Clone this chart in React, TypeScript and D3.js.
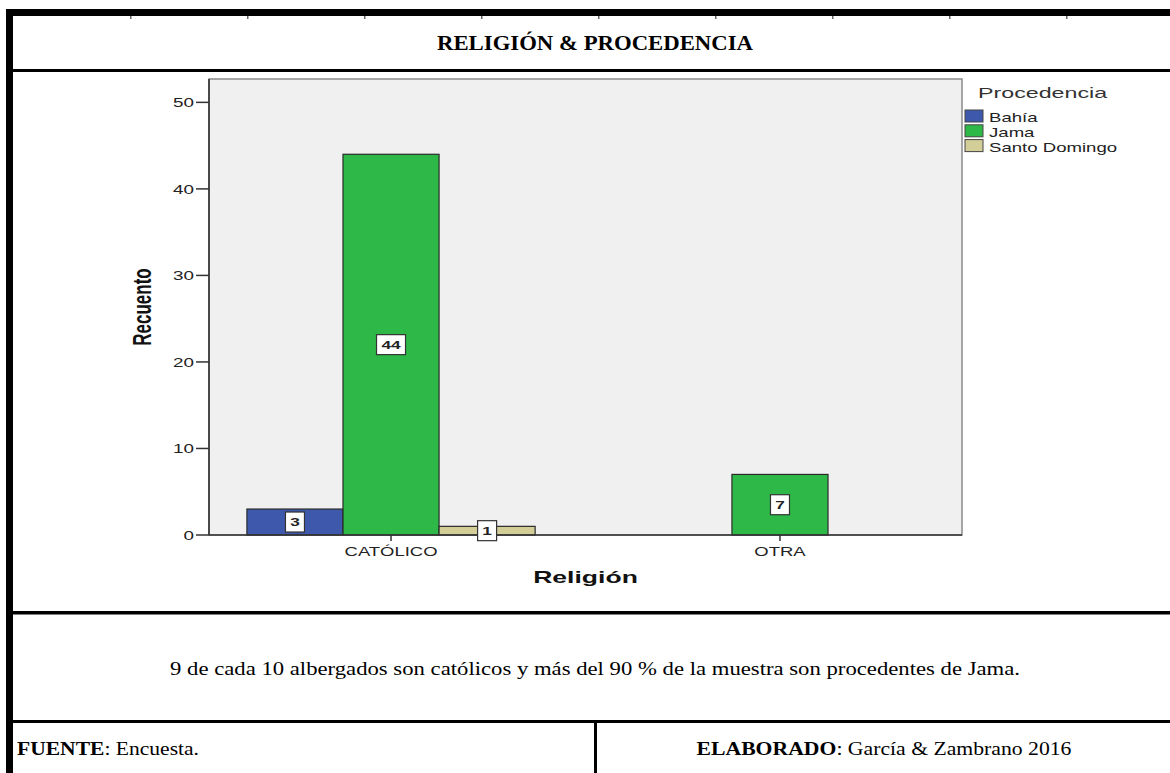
import React from "react";
import * as d3 from "d3";

// ---- data ----
const categories = ["CATÓLICO", "OTRA"];
const seriesNames = ["Bahía", "Jama", "Santo Domingo"];
const bahia = [3, 0];
const jama = [44, 7];
const santoDomingo = [1, 0];
const seriesValues = [bahia, jama, santoDomingo];
const seriesColors = ["#3E58AC", "#2EB848", "#D3CE97"];
const yTicks = [0, 10, 20, 30, 40, 50];
const title = "RELIGIÓN & PROCEDENCIA";
const xTitle = "Religión";
const yTitle = "Recuento";
const legendTitle = "Procedencia";
const note = "9 de cada 10 albergados son católicos y más del 90 % de la muestra son procedentes de Jama.";
const topMarks = [130, 247, 364, 481, 598, 715, 832, 949, 1066];

const W = 1170;
const H = 773;
const plot = { l: 209, r: 962, t: 79, b: 535 };
const sans = "'Liberation Sans', Arial, sans-serif";
const serif = "'Liberation Serif', 'Times New Roman', serif";

function SText(props: any) {
  const { x, y, sx = 1, anchor = "start", size, weight = "normal", fill = "#222", children } = props;
  return (
    <g transform={`translate(${x},${y}) scale(${sx},1)`}>
      <text textAnchor={anchor} fontFamily={sans} fontSize={size} fontWeight={weight} fill={fill}>
        {children}
      </text>
    </g>
  );
}

export default function App() {
  const x = d3.scalePoint<string>().domain(categories).range([plot.l, plot.r]).padding(0.468);
  const y = d3.scaleLinear().domain([0, 52.7]).range([plot.b, plot.t]);
  const barW = x.step() * 0.247;

  const bars: any[] = [];
  categories.forEach((cat, ci) => {
    const present = seriesNames
      .map((s, si) => ({ s, si, v: seriesValues[si][ci] }))
      .filter((d) => d.v > 0);
    const n = present.length;
    const inner = d3
      .scaleBand<string>()
      .domain(present.map((d) => d.s))
      .range([(x(cat) as number) - (n * barW) / 2, (x(cat) as number) + (n * barW) / 2]);
    present.forEach((d) => {
      bars.push({ ...d, x0: inner(d.s) as number, w: inner.bandwidth(), cat });
    });
  });

  return (
    <svg
      width={W}
      height={H}
      style={{ position: "absolute", left: 0, top: 0, display: "block", background: "#fff" }}
    >
      <rect x={0} y={0} width={W} height={H} fill="#fff" />

      {/* frame */}
      <rect x={6} y={9} width={W - 6} height={7} fill="#000" />
      <rect x={6} y={9} width={7} height={H - 9} fill="#000" />
      <rect x={13} y={69} width={W - 13} height={3} fill="#000" />
      <rect x={13} y={611} width={W - 13} height={3.5} fill="#000" />
      <rect x={13} y={720} width={W - 13} height={3} fill="#000" />
      <rect x={594} y={720} width={3} height={H - 720} fill="#000" />
      {topMarks.map((m) => (
        <rect key={m} x={m} y={16} width={1.5} height={3} fill="#666" />
      ))}

      {/* title */}
      <text
        x={595}
        y={50}
        textAnchor="middle"
        fontFamily={serif}
        fontWeight="bold"
        fontSize={22}
        textLength={316}
        lengthAdjust="spacingAndGlyphs"
        fill="#000"
      >
        {title}
      </text>

      {/* plot area */}
      <rect
        x={plot.l}
        y={plot.t}
        width={plot.r - plot.l}
        height={plot.b - plot.t}
        fill="#F0F0F0"
        stroke="#8a8a8a"
        strokeWidth={1.5}
      />

      {/* bars */}
      {bars.map((b) => (
        <rect
          key={b.cat + b.s}
          x={b.x0}
          y={y(b.v)}
          width={b.w}
          height={y(0) - y(b.v)}
          fill={seriesColors[b.si]}
          stroke="#2a2a2a"
          strokeWidth={1.2}
        />
      ))}

      {/* axes */}
      <line x1={plot.l} x2={plot.l} y1={plot.t} y2={plot.b} stroke="#333" strokeWidth={1.6} />
      <line x1={plot.l} x2={plot.r} y1={plot.b} y2={plot.b} stroke="#333" strokeWidth={1.6} />
      {yTicks.map((t) => (
        <g key={t}>
          <line x1={plot.l - 13} x2={plot.l} y1={y(t)} y2={y(t)} stroke="#333" strokeWidth={1.5} />
          <SText x={plot.l - 15} y={y(t) + 4.7} sx={1.45} anchor="end" size={13}>
            {String(t)}
          </SText>
        </g>
      ))}
      {categories.map((c) => (
        <g key={c}>
          <line
            x1={x(c) as number}
            x2={x(c) as number}
            y1={plot.b}
            y2={plot.b + 6}
            stroke="#333"
            strokeWidth={1.5}
          />
          <SText x={x(c) as number} y={556} sx={1.42} anchor="middle" size={13}>
            {c}
          </SText>
        </g>
      ))}
      <SText x={(plot.l + plot.r) / 2} y={583} sx={1.66} anchor="middle" size={16} weight="bold" fill="#111">
        {xTitle}
      </SText>
      <g transform={`translate(142,307) scale(1.55,1) rotate(-90)`}>
        <text
          textAnchor="middle"
          dominantBaseline="central"
          fontFamily={sans}
          fontWeight="bold"
          fontSize={17}
          fill="#111"
        >
          {yTitle}
        </text>
      </g>

      {/* value labels */}
      {bars.map((b) => {
        const label = String(b.v);
        const cx = b.x0 + b.w / 2;
        const cy = y(b.v / 2);
        const bw = label.length * 10 + 9;
        const bh = 20;
        return (
          <g key={"l" + b.cat + b.s}>
            <rect x={cx - bw / 2} y={cy - bh / 2} width={bw} height={bh} fill="#fff" stroke="#333" strokeWidth={1.2} />
            <SText x={cx} y={cy + 4.2} sx={1.5} anchor="middle" size={11.5} weight="bold" fill="#222">
              {label}
            </SText>
          </g>
        );
      })}

      {/* legend */}
      <SText x={978} y={98} sx={1.66} size={14} fill="#333">
        {legendTitle}
      </SText>
      {seriesNames.map((s, i) => (
        <g key={s}>
          <rect x={965} y={110 + i * 14.8} width={18} height={12} fill={seriesColors[i]} stroke="#444" strokeWidth={1} />
          <SText x={989} y={122 + i * 14.8} sx={1.55} size={12} fill="#222">
            {s}
          </SText>
        </g>
      ))}

      {/* note & footer */}
      <text
        x={595}
        y={675}
        textAnchor="middle"
        fontFamily={serif}
        fontSize={18}
        textLength={850}
        lengthAdjust="spacingAndGlyphs"
        fill="#000"
      >
        {note}
      </text>
      <text
        x={17}
        y={755}
        fontFamily={serif}
        fontSize={18.5}
        textLength={182}
        lengthAdjust="spacingAndGlyphs"
        fill="#000"
      >
        <tspan fontWeight="bold">FUENTE</tspan>
        <tspan>: Encuesta.</tspan>
      </text>
      <text
        x={884}
        y={755}
        textAnchor="middle"
        fontFamily={serif}
        fontSize={18.5}
        textLength={375}
        lengthAdjust="spacingAndGlyphs"
        fill="#000"
      >
        <tspan fontWeight="bold">ELABORADO</tspan>
        <tspan>: García &amp; Zambrano 2016</tspan>
      </text>
    </svg>
  );
}
